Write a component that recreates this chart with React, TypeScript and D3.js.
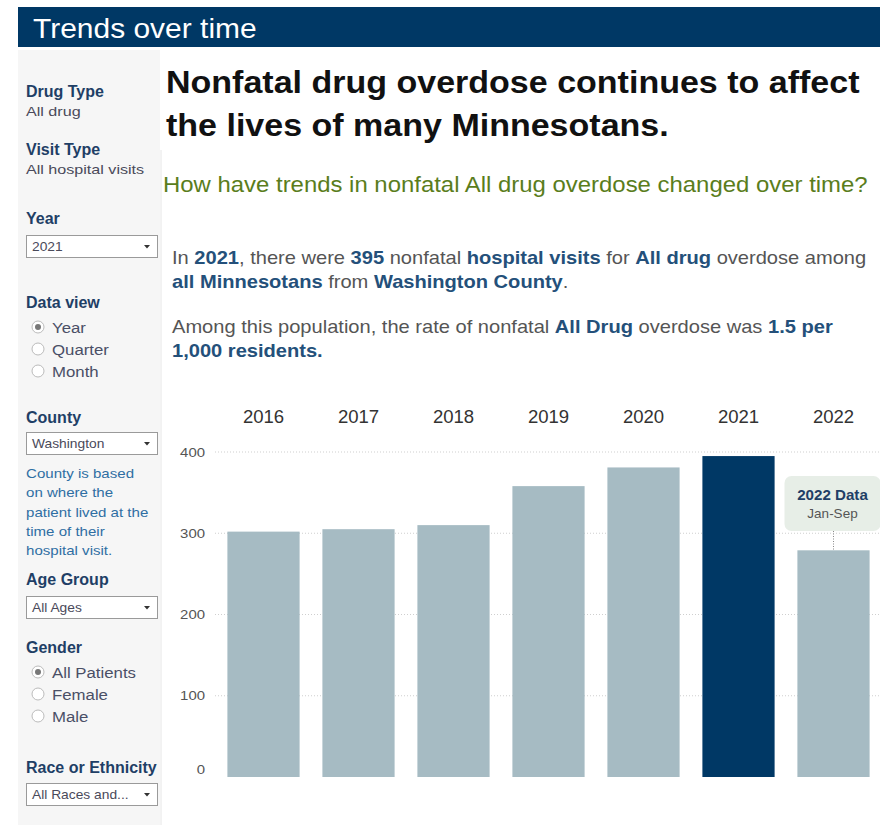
import React from "react";
import * as d3 from "d3";

const years = ["2016", "2017", "2018", "2019", "2020", "2021", "2022"];
const visits = [302, 305, 310, 358, 381, 395, 279];
const highlightYear = "2021";
const yTicks = [0, 100, 200, 300, 400];

const headerTitle = "Trends over time";
const titleLines = ["Nonfatal drug overdose continues to affect", "the lives of many Minnesotans."];
const subtitle = "How have trends in nonfatal All drug overdose changed over time?";

type Seg = [string, boolean];
const paraLines: Seg[][] = [
  [["In ", false], ["2021", true], [", there were ", false], ["395", true], [" nonfatal ", false], ["hospital visits", true], [" for ", false], ["All drug", true], [" overdose among", false]],
  [["all Minnesotans", true], [" from ", false], ["Washington County", true], [".", false]],
  [["Among this population, the rate of nonfatal ", false], ["All Drug", true], [" overdose was ", false], ["1.5 per", true]],
  [["1,000 residents.", true]],
];
const countyNote = ["County is based", "on where the", "patient lived at the", "time of their", "hospital visit."];

const FONT = "'Liberation Sans', Arial, sans-serif";
const NAVY = "#003865";
const LABEL = "#1f3f66";
const BAR = "#a6bbc3";

type TP = {
  x: number; y: number; size: number; sx?: number; weight?: string; fill?: string;
  anchor?: "start" | "middle" | "end"; children: React.ReactNode;
};
function T({ x, y, size, sx = 1, weight = "normal", fill = "#333", anchor = "start", children }: TP) {
  return (
    <text transform={`translate(${x},${y}) scale(${sx},1)`} fontSize={size} fontWeight={weight} fill={fill} textAnchor={anchor}>
      {children}
    </text>
  );
}

function Dropdown({ y, text }: { y: number; text: string }) {
  return (
    <g>
      <rect x={26.5} y={y + 0.5} width={131} height={22} fill="#fff" stroke="#9a9a9a" strokeWidth={1} />
      <T x={32} y={y + 15.5} size={12} sx={1.15} fill="#4a4a5a">{text}</T>
      <path d={`M${144},${y + 10} l6,0 l-3,3.5 z`} fill="#333" />
    </g>
  );
}

function Radio({ y, text, checked }: { y: number; text: string; checked: boolean }) {
  return (
    <g>
      <circle cx={38} cy={y} r={6} fill="#fff" stroke="#bbb" strokeWidth={1} />
      {checked && <circle cx={38} cy={y} r={3} fill="#777" />}
      <T x={52} y={y + 5.5} size={15} sx={1.12} fill="#4a4f66">{text}</T>
    </g>
  );
}

function Label({ y, text }: { y: number; text: string }) {
  return <T x={26} y={y} size={16} weight="bold" fill={LABEL}>{text}</T>;
}

export default function App() {
  const W = 880;
  const H = 825;
  const x = d3.scaleBand<string>().domain(years).range([216, 881]).paddingInner(0.24).paddingOuter(0.12);
  const y = d3.scaleLinear().domain([0, 400]).range([777, 452]);
  const i22 = years.indexOf("2022");
  const cx22 = (x("2022") as number) + x.bandwidth() / 2;

  return (
    <div style={{ position: "absolute", left: 0, top: 0 }}>
      <svg width={W} height={H} style={{ display: "block" }} fontFamily={FONT}>
        <rect x={0} y={0} width={W} height={H} fill="#fff" />
        {/* header */}
        <rect x={18} y={7} width={862} height={40} fill={NAVY} />
        <T x={33} y={38} size={27} sx={1.11} fill="#fff">{headerTitle}</T>

        {/* left panel */}
        <rect x={18} y={50} width={142} height={775} fill="#f6f6f6" />
        <line x1={161} x2={161} y1={150} y2={825} stroke="#e6e6e6" />

        <Label y={97} text="Drug Type" />
        <T x={26} y={116} size={12.5} sx={1.29} fill="#4a4a5a">All drug</T>
        <Label y={155} text="Visit Type" />
        <T x={26} y={174} size={12.5} sx={1.29} fill="#4a4a5a">All hospital visits</T>
        <Label y={224} text="Year" />
        <Dropdown y={235} text="2021" />
        <Label y={308} text="Data view" />
        <Radio y={327} text="Year" checked={true} />
        <Radio y={349} text="Quarter" checked={false} />
        <Radio y={371} text="Month" checked={false} />
        <Label y={423} text="County" />
        <Dropdown y={432} text="Washington" />
        {countyNote.map((t, i) => (
          <T key={t} x={26} y={478 + i * 19.3} size={13} sx={1.16} fill="#2f6ea3">{t}</T>
        ))}
        <Label y={585} text="Age Group" />
        <Dropdown y={596} text="All Ages" />
        <Label y={653} text="Gender" />
        <Radio y={672} text="All Patients" checked={true} />
        <Radio y={694} text="Female" checked={false} />
        <Radio y={716} text="Male" checked={false} />
        <Label y={773} text="Race or Ethnicity" />
        <Dropdown y={783} text="All Races and..." />

        {/* title */}
        {titleLines.map((t, i) => (
          <T key={t} x={166} y={93 + i * 43} size={32} sx={1.063} weight="bold" fill="#111">{t}</T>
        ))}
        <T x={163} y={192} size={21.5} sx={1.113} fill="#5a7d1c">{subtitle}</T>

        {/* paragraph */}
        {paraLines.map((line, i) => (
          <T key={i} x={172} y={[264, 288, 333, 357][i]} size={18} sx={1.116} fill="#555">
            {line.map(([t, b], j) => (
              <tspan key={j} fontWeight={b ? "bold" : "normal"} fill={b ? "#24507a" : "#555"}>{t}</tspan>
            ))}
          </T>
        ))}

        {/* chart */}
        {years.map((yr) => (
          <T key={yr} x={(x(yr) as number) + x.bandwidth() / 2} y={423} size={17.5} sx={1.06} fill="#333" anchor="middle">{yr}</T>
        ))}
        {yTicks.filter((t) => t > 0).map((t) => (
          <line key={t} x1={215} x2={880} y1={y(t)} y2={y(t)} stroke="#cfcfcf" strokeDasharray="1,2" />
        ))}
        {yTicks.map((t) => (
          <T key={t} x={205} y={(t === 0 ? y(t) - 8 : y(t)) + 4.5} size={13} sx={1.15} fill="#555" anchor="end">{t}</T>
        ))}
        {years.map((yr, i) => (
          <rect key={yr} x={x(yr)} y={y(visits[i])} width={x.bandwidth()} height={y(0) - y(visits[i])} fill={yr === highlightYear ? NAVY : BAR} />
        ))}

        {/* annotation */}
        <line x1={cx22} x2={cx22} y1={531} y2={y(visits[i22])} stroke="#888" strokeDasharray="1,1.5" />
        <rect x={cx22 - 49} y={476} width={96} height={55} rx={7} fill="#e7eee7" />
        <T x={cx22 - 1} y={500} size={14} sx={1.08} weight="bold" fill={LABEL} anchor="middle">2022 Data</T>
        <T x={cx22 - 1} y={518} size={13.5} sx={1.0} fill="#555" anchor="middle">Jan-Sep</T>
      </svg>
    </div>
  );
}
